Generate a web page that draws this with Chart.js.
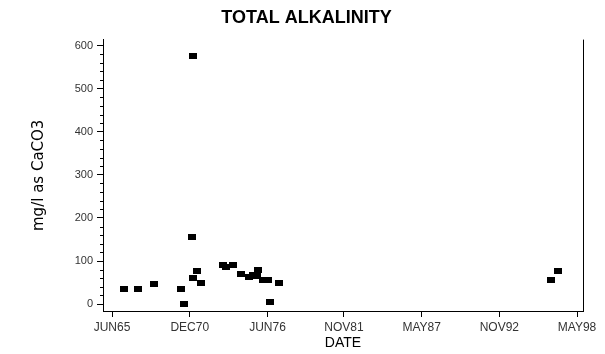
<!DOCTYPE html>
<html lang="en">
<head>
  <meta charset="UTF-8" />
  <title>Total Alkalinity</title>
  <script src="https://cdn.jsdelivr.net/npm/chart.js"></script>
  <style>
    body {
      margin: 0;
      padding: 0;
      background: #ffffff;
    }
    .chart-box {
      width: 605px;
      height: 354px;
    }
  </style>
</head>
<body>
  <div class="chart-box">
    <canvas id="alkChart" width="605" height="354"></canvas>
  </div>

  <script>
    // Sample dates (decimal years) and alkalinity values (mg/l as CaCO3)
    const sampleDates = [1966.29, 1967.28, 1968.37, 1970.33, 1970.54, 1971.10, 1971.13, 1971.13,
                         1971.46, 1971.74, 1973.25, 1973.49, 1973.96, 1974.55, 1975.14, 1975.42,
                         1975.66, 1975.77, 1976.08, 1976.44, 1976.62, 1977.22, 1996.47, 1996.98];
    const alkalinity = [34, 35, 46, 36, 0, 156, 575, 61,
                        78, 50, 90, 87, 90, 70, 62, 68,
                        65, 80, 55, 55, 5, 50, 57, 77];

    // Axis ticks
    const dateTicks = [1965.42, 1970.92, 1976.42, 1981.83, 1987.33, 1992.83, 1998.33];
    const dateLabels = ['JUN65', 'DEC70', 'JUN76', 'NOV81', 'MAY87', 'NOV92', 'MAY98'];
    const alkTicks = [0, 100, 200, 300, 400, 500, 600];

    // Small black rectangle marker
    const marker = document.createElement('canvas');
    marker.width = 8;
    marker.height = 6;
    const mctx = marker.getContext('2d');
    mctx.fillStyle = '#000';
    mctx.fillRect(0, 0, 8, 6);

    // minor ticks on y axis + right frame line
    const framePlugin = {
      id: 'frame',
      afterDraw(chart) {
        const ctx = chart.ctx;
        const area = chart.chartArea;
        const y = chart.scales.y;
        ctx.save();
        ctx.strokeStyle = '#000';
        ctx.lineWidth = 1;
        ctx.beginPath();
        ctx.moveTo(area.right + 0.5, area.top);
        ctx.lineTo(area.right + 0.5, area.bottom);
        for (let v = 20; v < 600; v += 20) {
          if (v % 100 === 0) continue;
          const py = Math.round(y.getPixelForValue(v)) + 0.5;
          ctx.moveTo(area.left - 3, py);
          ctx.lineTo(area.left, py);
        }
        ctx.stroke();
        ctx.restore();
      }
    };

    const ctx = document.getElementById('alkChart').getContext('2d');
    new Chart(ctx, {
      type: 'scatter',
      data: {
        datasets: [{
          data: sampleDates.map((d, i) => ({ x: d, y: alkalinity[i] })),
          pointStyle: marker,
          pointRadius: 4,
          pointHoverRadius: 4
        }]
      },
      options: {
        responsive: false,
        animation: false,
        layout: { padding: { left: 30, right: 22, top: 0, bottom: 0 } },
        plugins: {
          legend: { display: false },
          tooltip: { enabled: false },
          title: {
            display: true,
            text: 'TOTAL ALKALINITY',
            color: '#000',
            font: { family: 'Liberation Sans', size: 18, weight: 'bold' },
            padding: { top: 7, bottom: 11 }
          }
        },
        scales: {
          x: {
            type: 'linear',
            min: 1964.78,
            max: 1998.75,
            afterBuildTicks: s => { s.ticks = dateTicks.map(v => ({ value: v })); },
            afterFit: s => { s.height = 43; },
            ticks: {
              color: '#333',
              font: { family: 'Liberation Sans', size: 12 },
              padding: 3,
              maxRotation: 0,
              callback: (v, i) => dateLabels[i]
            },
            grid: { drawOnChartArea: false, tickLength: 6, color: '#000' },
            border: { color: '#000' },
            title: {
              display: true,
              text: 'DATE',
              color: '#000',
              font: { family: 'Liberation Sans', size: 14 },
              padding: { top: 0, bottom: 2 }
            }
          },
          y: {
            min: -16,
            max: 614,
            afterBuildTicks: s => { s.ticks = alkTicks.map(v => ({ value: v })); },
            afterFit: s => { s.width = 73; },
            ticks: {
              color: '#333',
              font: { family: 'Liberation Sans', size: 11 },
              padding: 4
            },
            grid: { drawOnChartArea: false, tickLength: 6, color: '#000' },
            border: { color: '#000' },
            title: {
              display: true,
              text: 'mg/l as CaCO3',
              color: '#000',
              font: { family: 'DejaVu Sans', size: 15 },
              padding: { top: 0, bottom: 0 }
            }
          }
        }
      },
      plugins: [framePlugin]
    });
  </script>
</body>
</html>
